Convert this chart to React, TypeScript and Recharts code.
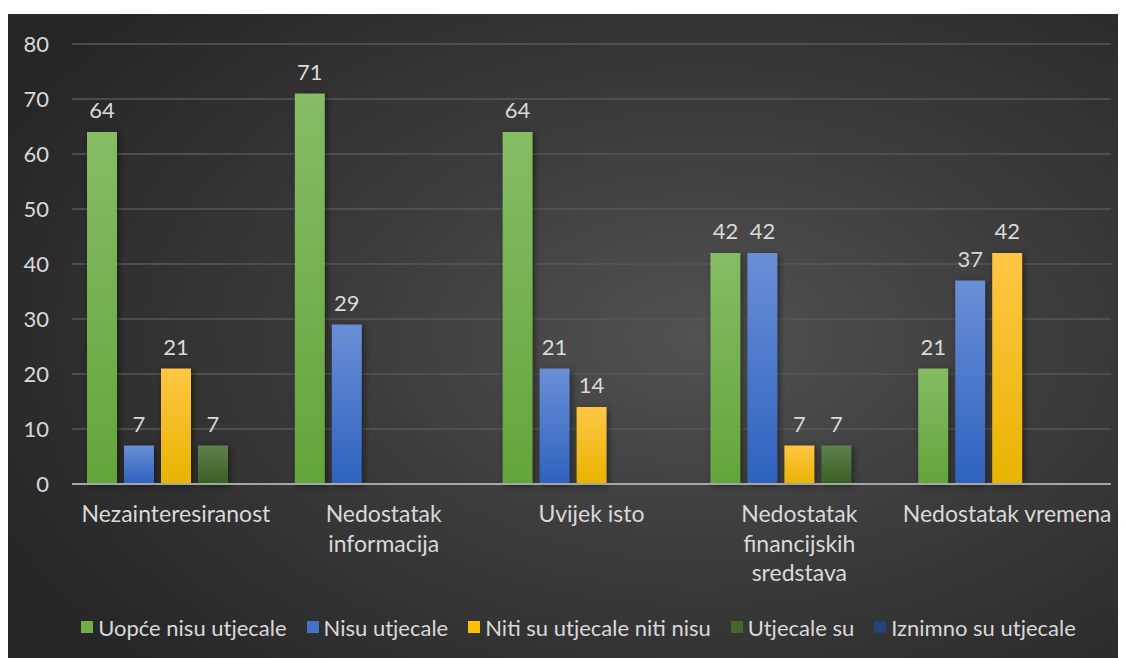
import {Bar, BarChart, CartesianGrid, LabelList, Legend, XAxis, YAxis} from "recharts";

const categories = [
  "Nezainteresiranost",
  "Nedostatak informacija",
  "Uvijek isto",
  "Nedostatak financijskih sredstava",
  "Nedostatak vremena",
];

const seriesNames = [
  "Uopće nisu utjecale",
  "Nisu utjecale",
  "Niti su utjecale niti nisu",
  "Utjecale su",
  "Iznimno su utjecale",
];

const uopceNisu = [64, 71, 64, 42, 21];
const nisu = [7, 29, 21, 42, 37];
const niti = [21, null, 14, 7, 42];
const utjecaleSu = [7, null, null, 7, null];
const iznimno = [null, null, null, null, null];

const yTicks = [0, 10, 20, 30, 40, 50, 60, 70, 80];

const seriesValues = [uopceNisu, nisu, niti, utjecaleSu, iznimno];
const keys = ["s0", "s1", "s2", "s3", "s4"];

// top / bottom colours of each bar gradient, plus legend swatch
const gradients = [
  ["#85bc64", "#62a53a", "#70ad47"],
  ["#6a8fd6", "#2e62be", "#4472c4"],
  ["#ffc645", "#e9b300", "#ffc000"],
  ["#60804f", "#385f20", "#43682b"],
  ["#3a5c9a", "#203f78", "#264478"],
];

const data = categories.map((name, i) => {
  const row: Record<string, string | number | null> = {name};
  keys.forEach((k, j) => (row[k] = seriesValues[j][i]));
  return row;
});

const FONT = "Lato, 'Open Sans', sans-serif";
const TEXT = "#d9d9d9";

function wrapWords(label: string, max: number): string[] {
  const lines: string[] = [];
  let cur = "";
  label.split(" ").forEach((w) => {
    const next = cur ? cur + " " + w : w;
    if (next.length > max && cur) {
      lines.push(cur);
      cur = w;
    } else {
      cur = next;
    }
  });
  if (cur) lines.push(cur);
  return lines;
}

function CategoryTick(props: any) {
  const {x, y, payload} = props;
  const lines = wrapWords(String(payload.value), 18);
  return (
    <text x={x} y={y} textAnchor="middle" fill={TEXT} fontSize={23} fontFamily={FONT}>
      {lines.map((l, i) => (
        <tspan key={i} x={x} dy={i === 0 ? 36 : 29.5}>
          {l}
        </tspan>
      ))}
    </text>
  );
}

function LegendBox() {
  return (
    <div
      style={{
        height: 30,
        display: "flex",
        justifyContent: "center",
        alignItems: "center",
        fontFamily: FONT,
        fontSize: 22,
        color: TEXT,
        gap: 20,
        paddingLeft: 24,
        boxSizing: "border-box",
      }}
    >
      {seriesNames.map((n, i) => (
        <span key={n} style={{display: "flex", alignItems: "center"}}>
          <span style={{width: 12, height: 12, background: gradients[i][2], marginRight: 5, display: "inline-block"}} />
          {n}
        </span>
      ))}
    </div>
  );
}

export default function App() {
  return (
    <div
      style={{
        margin: "6px 0 0 -1px",
        width: 1119,
        height: 644,
        background: "radial-gradient(ellipse 70% 75% at 62% 50%, #525252 0%, #3c3c3c 45%, #262626 100%)",
      }}
    >
      <BarChart
        width={1119}
        height={644}
        data={data}
        margin={{top: 30, right: 15, left: 0, bottom: 0}}
        barSize={30}
        barGap={7}
      >
        <defs>
          {gradients.map((g, i) => (
            <linearGradient key={i} id={`grad${i}`} x1="0" y1="0" x2="0" y2="1">
              <stop offset="0%" stopColor={g[0]} />
              <stop offset="100%" stopColor={g[1]} />
            </linearGradient>
          ))}
        </defs>
        <CartesianGrid vertical={false} stroke="#575757" strokeWidth={1.3} />
        <XAxis
          dataKey="name"
          height={144}
          interval={0}
          tickLine={false}
          tickSize={0}
          axisLine={{stroke: "#a6a6a6", strokeWidth: 2}}
          tick={<CategoryTick />}
        />
        <YAxis
          width={65}
          domain={[0, 80]}
          ticks={yTicks}
          axisLine={false}
          tickLine={false}
          tickSize={0}
          tickMargin={23}
          tick={{fill: TEXT, fontSize: 22, fontFamily: FONT}}
        />
        <Legend
          verticalAlign="bottom"
          content={<LegendBox />}
          wrapperStyle={{top: 598, left: 0, width: 1119}}
        />
        {keys.map((k, i) => (
          <Bar
            key={k}
            dataKey={k}
            name={seriesNames[i]}
            fill={`url(#grad${i})`}
            isAnimationActive={false}
            style={{filter: "drop-shadow(2px 2px 3px rgba(0,0,0,0.45))"}}
          >
            <LabelList dataKey={k} position="top" offset={14} fill={TEXT} fontSize={22} fontFamily={FONT} />
          </Bar>
        ))}
      </BarChart>
    </div>
  );
}
